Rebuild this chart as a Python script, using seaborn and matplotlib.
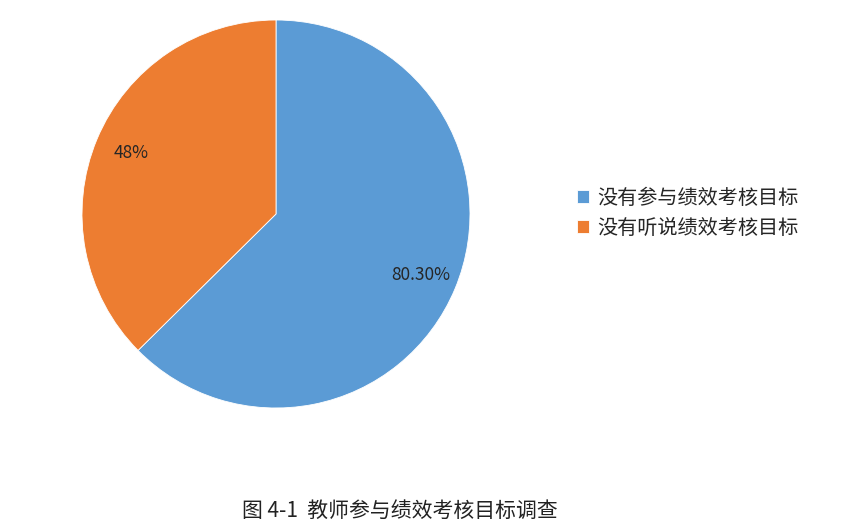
import numpy as np
import seaborn as sns
import matplotlib.pyplot as plt


# data
categories = ['没有参与绩效考核目标', '没有听说绩效考核目标']
values = [80.30, 48]
pct_labels = ['80.30%', '48%']

sns.set_theme(style='white')
plt.rcParams['font.family'] = ['Noto Sans CJK SC', 'DejaVu Sans']

colors = sns.color_palette(['#5B9BD5', '#ED7D31'])

fig = plt.figure(figsize=(8.46, 5.29), dpi=100)

# pie axes: centre about (276, 214) px, radius 194 px
ax = fig.add_axes([82 / 846, (529 - 214 - 194) / 529, 388 / 846, 388 / 529])

wedges, texts = ax.pie(values,
                       colors=colors,
                       startangle=90,
                       counterclock=False,
                       radius=1.0,
                       wedgeprops=dict(edgecolor='white', linewidth=0.6))
ax.set_aspect('equal')
ax.set_xlim(-1, 1)
ax.set_ylim(-1, 1)
ax.axis('off')

# percentage labels inside slices
for w, lab in zip(wedges, pct_labels):
    ang = np.deg2rad((w.theta1 + w.theta2) / 2)
    r = 0.81
    ax.text(r * np.cos(ang), r * np.sin(ang), lab,
            ha='center', va='center', fontsize=12.5, color='#262626')

fig.legend(wedges, categories,
           loc='center left',
           bbox_to_anchor=(559 / 846, 1 - 213 / 529),
           frameon=False,
           fontsize=14.5,
           handlelength=0.6,
           handleheight=0.6,
           handletextpad=0.4,
           labelspacing=0.45)

fig.text(400 / 846, 1 - 511 / 529, '图 4-1  教师参与绩效考核目标调查',
         ha='center', va='center', fontsize=15, color='#222222')

fig.savefig('out.png', dpi=100)
